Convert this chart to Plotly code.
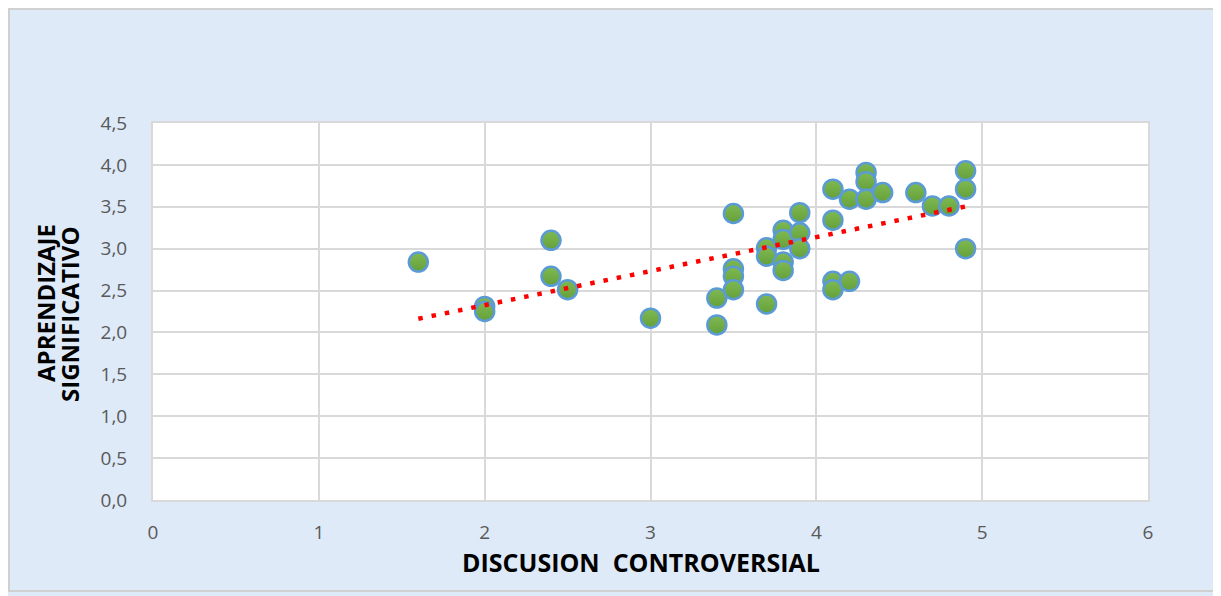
import numpy as np
import plotly.graph_objects as go

# Data
discusion = [1.6, 2.0, 2.0, 2.4, 2.4, 2.5, 3.0, 3.4, 3.4, 3.5, 3.5, 3.5, 3.5,
             3.7, 3.7, 3.7, 3.8, 3.8, 3.8, 3.8, 3.9, 3.9, 3.9,
             4.1, 4.1, 4.1, 4.1, 4.2, 4.2, 4.3, 4.3, 4.3, 4.4, 4.6, 4.7, 4.8,
             4.9, 4.9, 4.9]
aprendizaje = [2.84, 2.31, 2.25, 3.10, 2.67, 2.51, 2.17, 2.41, 2.09, 3.42, 2.76, 2.67, 2.51,
               3.01, 2.91, 2.34, 3.22, 3.11, 2.84, 2.74, 3.43, 3.19, 3.00,
               3.71, 3.34, 2.61, 2.51, 3.59, 2.61, 3.91, 3.80, 3.59, 3.67, 3.67, 3.51, 3.51,
               3.93, 3.71, 3.00]

x_ticks = [0, 1, 2, 3, 4, 5, 6]
y_ticks = [0.0, 0.5, 1.0, 1.5, 2.0, 2.5, 3.0, 3.5, 4.0, 4.5]

x_title = "DISCUSION  CONTROVERSIAL"
y_title_1 = "APRENDIZAJE"
y_title_2 = "SIGNIFICATIVO"

# Linear trendline
xa = np.array(discusion)
ya = np.array(aprendizaje)
slope, intercept = np.polyfit(xa, ya, 1)
tx = [xa.min(), xa.max()]
ty = [slope * v + intercept for v in tx]

fig = go.Figure()
fig.add_trace(go.Scatter(
    x=discusion, y=aprendizaje, mode="markers",
    marker=dict(size=19, color="#80b952",
                gradient=dict(type="vertical", color="#64a03a"),
                line=dict(color="#5b9bd5", width=2.5)),
    showlegend=False, hoverinfo="x+y"))
fig.add_trace(go.Scatter(
    x=tx, y=ty, mode="lines",
    line=dict(color="#ff0000", width=4.5, dash="4.5px,9px"),
    showlegend=False, hoverinfo="skip"))

# page offset of the figure (browser body margin)
OFF = 8
PL, PR, PT, PB = 153, 1148, 123, 500  # plot area in page pixels
pw, ph = PR - PL, PB - PT


def px(x):
    return (x - PL) / pw


def py(y):
    return (PB - y) / ph


W, H = 1221 - OFF, 596 - OFF
fig.update_layout(
    width=W, height=H,
    margin=dict(l=PL - OFF, r=1221 - PR, t=PT - OFF, b=596 - PB),
    paper_bgcolor="#deeaf7",
    plot_bgcolor="#ffffff",
    separators=", ",
    font=dict(family="Open Sans", color="#595959", size=19),
    xaxis=dict(range=[0, 6], tickvals=x_ticks, tickformat="d",
               showgrid=True, gridcolor="#d9d9d9", gridwidth=2,
               showline=True, linecolor="#d9d9d9", linewidth=2, mirror=True,
               zeroline=False, ticks="outside", ticklen=14,
               tickcolor="rgba(0,0,0,0)", tickfont=dict(size=19, color="#595959")),
    yaxis=dict(range=[0, 4.5], tickvals=y_ticks, tickformat=".1f",
               showgrid=True, gridcolor="#d9d9d9", gridwidth=2,
               showline=True, linecolor="#d9d9d9", linewidth=2, mirror=True,
               zeroline=False, ticks="outside", ticklen=20,
               tickcolor="rgba(0,0,0,0)", tickfont=dict(size=19, color="#595959")),
    annotations=[
        dict(text=x_title, xref="paper", yref="paper",
             x=px(641), y=py(562),
             showarrow=False, xanchor="center", yanchor="middle",
             font=dict(family="Open Sans", size=25, color="#000000", weight="bold")),
        dict(text=y_title_1, xref="paper", yref="paper",
             x=px(45), y=py(303),
             showarrow=False, xanchor="center", yanchor="middle", textangle=-90,
             font=dict(family="Open Sans", size=24, color="#000000", weight="bold")),
        dict(text=y_title_2, xref="paper", yref="paper",
             x=px(69), y=py(314),
             showarrow=False, xanchor="center", yanchor="middle", textangle=-90,
             font=dict(family="Open Sans", size=24, color="#000000", weight="bold")),
    ],
    shapes=[
        dict(type="rect", xref="paper", yref="paper",
             x0=px(9), x1=px(1214), y0=py(591), y1=py(9),
             line=dict(color="#d0d0d0", width=2), layer="below"),
    ],
)

fig.write_html("out.html")
